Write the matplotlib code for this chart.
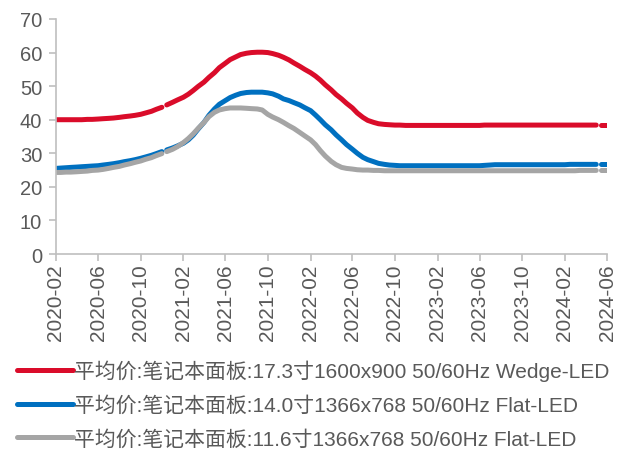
import matplotlib
matplotlib.use('Agg')
import matplotlib.pyplot as plt
import matplotlib.dates as mdates
import pandas as pd

plt.rcParams['font.family'] = ['Liberation Sans', 'Noto Sans CJK SC', 'DejaVu Sans']

# 半月度均价（美元），2020-02 至 2024-06
dates = pd.date_range('2020-02-01', periods=105, freq='SMS')

red = [
    40.0, 40.0, 40.0, 40.0, 40.0, 40.0, 40.1, 40.1, 40.2, 40.3, 40.4, 40.5,
    40.7, 40.9, 41.1, 41.3, 41.6, 42.0, 42.5, 43.1, 43.7, 44.4,              # 2020
    45.2, 45.9, 46.7, 47.6, 48.7, 49.9, 51.2, 52.6, 54.0, 55.5, 56.8, 57.9,
    58.7, 59.4, 59.8, 60.0, 60.1, 60.1, 60.0, 59.7, 59.2, 58.6, 57.8, 56.9,  # 2021
    55.9, 55.0, 54.0, 53.0, 51.8, 50.4, 48.9, 47.5, 46.2, 44.9, 43.5, 42.0,
    40.7, 39.8, 39.2, 38.8, 38.6, 38.5, 38.4, 38.4, 38.3, 38.3, 38.3, 38.3,  # 2022
    38.3, 38.3, 38.3, 38.3, 38.3, 38.3, 38.3, 38.3, 38.3, 38.3, 38.3, 38.4,
    38.4, 38.4, 38.4, 38.4, 38.4, 38.4, 38.4, 38.4, 38.4, 38.4, 38.4, 38.4,  # 2023
    38.4, 38.4, 38.4, 38.4, 38.4, 38.4, 38.4, 38.4, 38.4, 38.5, 38.5,        # 2024
]
blue = [
    25.5, 25.6, 25.7, 25.8, 25.9, 26.0, 26.1, 26.2, 26.3, 26.5, 26.7, 26.9,
    27.2, 27.5, 27.8, 28.1, 28.5, 28.9, 29.4, 29.9, 30.5, 31.0,
    31.6, 32.2, 33.0, 34.0, 35.4, 37.2, 39.2, 41.3, 43.2, 44.6, 45.7, 46.6,
    47.3, 47.8, 48.1, 48.2, 48.2, 48.2, 48.0, 47.7, 47.0, 46.2, 45.7, 45.1,
    44.4, 43.6, 42.7, 41.4, 40.0, 38.5, 37.0, 35.5, 34.0, 32.6, 31.2, 30.0,
    28.8, 28.1, 27.5, 27.0, 26.7, 26.5, 26.4, 26.3, 26.3, 26.3, 26.3, 26.3,
    26.3, 26.3, 26.3, 26.3, 26.3, 26.3, 26.3, 26.3, 26.3, 26.3, 26.3, 26.4,
    26.5, 26.6, 26.6, 26.6, 26.6, 26.6, 26.6, 26.6, 26.6, 26.6, 26.6, 26.6,
    26.6, 26.6, 26.6, 26.7, 26.7, 26.7, 26.7, 26.7, 26.7, 26.8, 26.8,
]
gray = [
    24.3, 24.3, 24.4, 24.4, 24.5, 24.6, 24.7, 24.9, 25.0, 25.2, 25.5, 25.8,
    26.1, 26.5, 26.9, 27.3, 27.7, 28.2, 28.7, 29.3, 29.9, 30.5,
    31.2, 32.0, 33.2, 34.4, 35.8, 37.4, 39.2, 40.9, 42.2, 42.9, 43.3, 43.5,
    43.5, 43.5, 43.4, 43.3, 43.2, 42.9, 41.6, 40.8, 40.0, 39.2, 38.2, 37.4,
    36.2, 35.2, 34.0, 32.6, 30.8, 29.2, 27.6, 26.6, 25.8, 25.5, 25.3, 25.1,
    25.0, 25.0, 24.9, 24.9, 24.8, 24.8, 24.8, 24.8, 24.8, 24.8, 24.8, 24.8,
    24.8, 24.8, 24.8, 24.8, 24.8, 24.8, 24.8, 24.8, 24.8, 24.8, 24.8, 24.8,
    24.8, 24.8, 24.8, 24.8, 24.8, 24.8, 24.8, 24.8, 24.8, 24.8, 24.8, 24.8,
    24.8, 24.8, 24.8, 24.8, 24.8, 24.9, 24.9, 24.9, 24.9, 25.0, 25.0,
]

labels = [
    '平均价:笔记本面板:17.3寸1600x900 50/60Hz Wedge-LED',
    '平均价:笔记本面板:14.0寸1366x768 50/60Hz Flat-LED',
    '平均价:笔记本面板:11.6寸1366x768 50/60Hz Flat-LED',
]
colors = ['#DA0C2A', '#0070C0', '#A5A5A5']

# 数据缺失处断开（各段末尾下标）
breaks = [21, 103]

fig = plt.figure(figsize=(6.24, 4.52), dpi=100)
ax = fig.add_axes([0.0897, 0.4358, 0.8831, 0.52])

for vals, col, lab in zip([red, blue, gray], colors, labels):
    edges = [0] + breaks + [len(vals)]
    for k in range(len(edges) - 1):
        a, b = edges[k], edges[k + 1]
        ax.plot(dates[a:b], vals[a:b], color=col, linewidth=3.6,
                solid_capstyle='round', solid_joinstyle='round',
                label=lab if k == 0 else None)

ax.set_xlim(pd.Timestamp('2020-02-01'), pd.Timestamp('2024-06-01'))
ax.set_ylim(0, 70)
ax.set_yticks(range(0, 71, 10))
ax.set_xticks(pd.date_range('2020-02-01', '2024-06-01', freq='4MS'))
ax.xaxis.set_major_formatter(mdates.DateFormatter('%Y-%m'))

for s in ['top', 'right']:
    ax.spines[s].set_visible(False)
for s in ['left', 'bottom']:
    ax.spines[s].set_color('#BFBFBF')
    ax.spines[s].set_linewidth(1.2)

ax.tick_params(axis='both', colors='#BFBFBF', length=5, width=1.2,
               labelcolor='#595959', labelsize=14.5)
ax.tick_params(axis='x', rotation=90, pad=2, labelsize=15)
ax.tick_params(axis='y', pad=5)

fig.legend(loc='upper left', bbox_to_anchor=(0.027, 0.202), frameon=False,
           fontsize=15, handlelength=2.7, handletextpad=0.05,
           labelspacing=0.67, borderpad=0, borderaxespad=0,
           labelcolor='#595959')

fig.savefig('out.png', dpi=100)
